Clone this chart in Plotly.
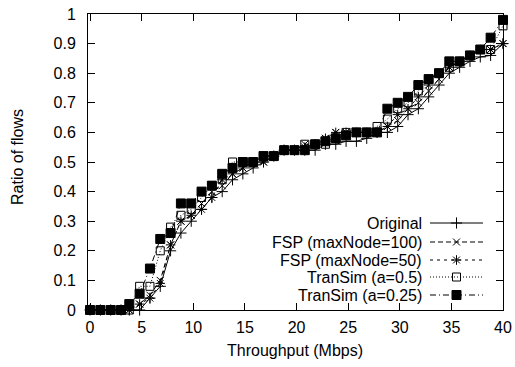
import plotly.graph_objects as go

# ---- data ----
x_grid = [0, 1, 2, 3, 3.8, 4.8, 5.8, 6.8, 7.8, 8.8, 9.8, 10.8, 11.8, 12.8, 13.8,
          14.8, 15.8, 16.8, 17.8, 18.8, 19.8, 20.8, 21.8, 22.8, 23.8, 24.8,
          25.8, 26.8, 27.8, 28.8, 29.8, 30.8, 31.8, 32.8, 33.8, 34.8, 35.8,
          36.8, 37.8, 38.8, 40]

original = [0, 0, 0, 0, 0, 0, 0.04, 0.08, 0.20, 0.26, 0.30, 0.34, 0.38, 0.40, 0.44,
            0.46, 0.48, 0.50, 0.52, 0.54, 0.54, 0.54, 0.54, 0.56, 0.56, 0.57,
            0.57, 0.58, 0.60, 0.60, 0.62, 0.66, 0.68, 0.72, 0.76, 0.80, 0.82,
            0.84, 0.855, 0.86, 0.90]
fsp100 = [0, 0, 0, 0, 0, 0.02, 0.05, 0.10, 0.22, 0.30, 0.32, 0.36, 0.40, 0.42, 0.46,
          0.48, 0.50, 0.50, 0.52, 0.54, 0.54, 0.56, 0.56, 0.58, 0.60, 0.60,
          0.60, 0.60, 0.60, 0.62, 0.64, 0.68, 0.70, 0.74, 0.78, 0.82, 0.84,
          0.86, 0.88, 0.88, 0.90]
fsp50 = [0, 0, 0, 0, 0, 0.02, 0.04, 0.09, 0.22, 0.30, 0.32, 0.34, 0.38, 0.44, 0.46,
         0.48, 0.50, 0.50, 0.52, 0.54, 0.54, 0.55, 0.56, 0.58, 0.60, 0.60,
         0.60, 0.60, 0.60, 0.62, 0.66, 0.68, 0.72, 0.76, 0.80, 0.82, 0.84,
         0.86, 0.88, 0.88, 0.90]
transim05 = [0, 0, 0, 0, 0, 0.08, 0.08, 0.20, 0.28, 0.32, 0.34, 0.38, 0.42, 0.44, 0.50,
             0.50, 0.50, 0.52, 0.52, 0.54, 0.54, 0.56, 0.56, 0.56, 0.58, 0.60,
             0.60, 0.60, 0.62, 0.645, 0.68, 0.70, 0.74, 0.78, 0.80, 0.82, 0.84,
             0.86, 0.88, 0.88, 0.96]
transim025 = [0, 0, 0, 0, 0.02, 0.055, 0.14, 0.24, 0.26, 0.36, 0.36, 0.40, 0.42, 0.46, 0.48,
              0.50, 0.50, 0.52, 0.52, 0.54, 0.54, 0.54, 0.56, 0.57, 0.58, 0.59,
              0.60, 0.60, 0.60, 0.68, 0.70, 0.72, 0.76, 0.78, 0.80, 0.84, 0.84,
              0.86, 0.88, 0.92, 0.98]

series_names = ["Original", "FSP (maxNode=100)", "FSP (maxNode=50)",
                "TranSim (a=0.5)", "TranSim (a=0.25)"]
series_values = [original, fsp100, fsp50, transim05, transim025]
x_ticks = [0, 5, 10, 15, 20, 25, 30, 35, 40]
y_ticks = [0, 0.1, 0.2, 0.3, 0.4, 0.5, 0.6, 0.7, 0.8, 0.9, 1]

# ---- styles ----
dashes = ["solid", "5px,3px", "3px,4px", "1px,2px", "6px,3px,1px,3px"]
symbols = ["cross-thin-open", "x-thin-open", "asterisk-open", "square-open", "square"]
msizes = [8, 7, 8, 8, 9]

FONT = "Liberation Sans, Arial, Helvetica, sans-serif"
FS = 16
fig = go.Figure()

for name, vals, d, s, ms in zip(series_names, series_values, dashes, symbols, msizes):
    fig.add_trace(go.Scatter(
        x=x_grid, y=vals, mode="lines+markers", name=name,
        line=dict(color="black", width=1, dash=d),
        marker=dict(symbol=s, size=ms, color="black",
                    line=dict(color="black", width=1)),
        showlegend=False, cliponaxis=False))

# ---- gnuplot-style key (text right aligned, sample on the right) ----
W, H = 515, 367
L, R, T, B = 88, 12, 14, 57
PW, PH = W - L - R, H - T - B


def px2paper(px, py):
    return (px - L) / PW, (H - B - py) / PH


key_rows = [223, 242, 260, 277, 295]  # pixel rows
text_right = 422
line_l, line_r = 430, 483
for i, (name, d, s, ms) in enumerate(zip(series_names, dashes, symbols, msizes)):
    yy = key_rows[i]
    ax_, ay_ = px2paper(text_right, yy)
    fig.add_annotation(x=ax_, y=ay_, xref="paper", yref="paper", text=name,
                       showarrow=False, xanchor="right", yanchor="middle",
                       borderpad=0, borderwidth=0,
                       font=dict(family=FONT, size=FS, color="black"))
    fig.add_trace(go.Scatter(
        x=[line_l, (line_l + line_r) / 2, line_r], y=[yy, yy, yy],
        xaxis="x2", yaxis="y2", mode="lines",
        line=dict(color="black", width=1, dash=d), showlegend=False,
        hoverinfo="skip"))
    fig.add_trace(go.Scatter(
        x=[(line_l + line_r) / 2], y=[yy], xaxis="x2", yaxis="y2", mode="markers",
        marker=dict(symbol=s, size=ms, color="black",
                    line=dict(color="black", width=1)),
        showlegend=False, hoverinfo="skip"))

# axis titles as annotations for exact placement
tx, ty = px2paper(295, 350)
fig.add_annotation(x=tx, y=ty, xref="paper", yref="paper", text="Throughput (Mbps)",
                   showarrow=False, xanchor="center", yanchor="middle",
                   font=dict(family=FONT, size=FS, color="black"))
tx, ty = px2paper(17, 157)
fig.add_annotation(x=tx, y=ty, xref="paper", yref="paper", text="Ratio of flows",
                   showarrow=False, xanchor="center", yanchor="middle", textangle=-90,
                   font=dict(family=FONT, size=FS, color="black"))

axis_common = dict(showgrid=False, zeroline=False, showline=True, linecolor="black",
                   linewidth=1, mirror="ticks", ticks="inside", ticklen=7,
                   tickcolor="black", tickwidth=1, automargin=False,
                   tickfont=dict(family=FONT, size=FS, color="black"))

fig.update_layout(
    width=W, height=H, autosize=False,
    margin=dict(l=L, r=R, t=T, b=B, autoexpand=False),
    paper_bgcolor="white", plot_bgcolor="white",
    font=dict(family=FONT, size=FS, color="black"),
    xaxis=dict(range=[-0.2, 40], tickvals=x_ticks,
               ticktext=[str(v) for v in x_ticks],
               ticklabelstandoff=3, **axis_common),
    yaxis=dict(range=[0, 1], tickvals=y_ticks,
               ticktext=[("%g" % v) for v in y_ticks],
               ticklabelstandoff=8, **axis_common),
    xaxis2=dict(range=[L, W - R], overlaying="x", visible=False, fixedrange=True,
                automargin=False),
    yaxis2=dict(range=[H - B, T], overlaying="y", visible=False, fixedrange=True,
                automargin=False),
)

fig.write_html("out.html")
